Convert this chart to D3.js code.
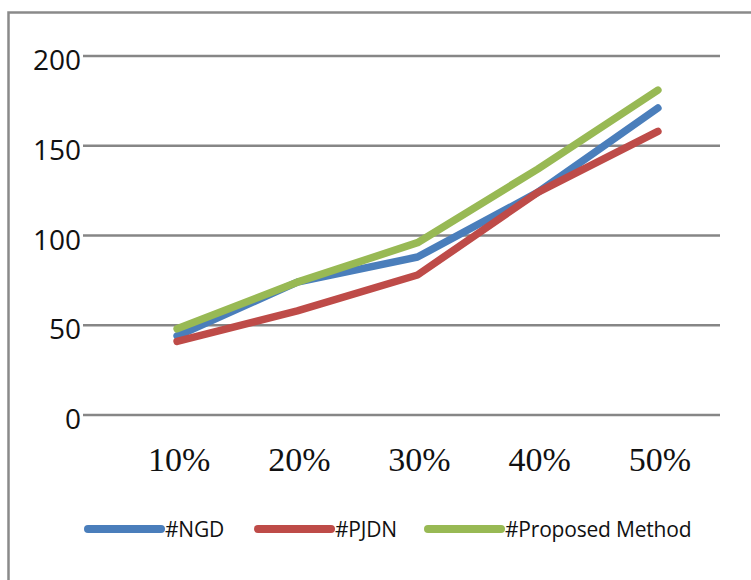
<!DOCTYPE html>
<html>
<head>
<meta charset="utf-8">
<script src="https://cdn.jsdelivr.net/npm/d3@7"></script>
<style>
  html, body { margin: 0; padding: 0; background: #ffffff; }
  svg { display: block; }
</style>
</head>
<body>
<div id="chart"></div>
<script>
// Noise ratio categories and the three compared methods
const categories = ["10%", "20%", "30%", "40%", "50%"];
const ngd = [44, 74, 88, 124, 171];
const pjdn = [41, 58, 78, 124, 158];
const proposed = [48, 74, 96, 137, 181];
const yTicks = [0, 50, 100, 150, 200];
const seriesNames = ["#NGD", "#PJDN", "#Proposed Method"];
const seriesColors = ["#4a7ebb", "#be4b48", "#98b954"];

const series = [ngd, pjdn, proposed].map((values, i) => ({
  name: seriesNames[i],
  color: seriesColors[i],
  values
}));

const W = 751, H = 580;
const svg = d3.select("#chart").append("svg")
  .attr("width", W).attr("height", H);

// outer chart frame (runs off the right and bottom edges)
svg.append("rect")
  .attr("x", 8.5).attr("y", 12.5)
  .attr("width", W + 20).attr("height", H + 20)
  .attr("fill", "none")
  .attr("stroke", "#8a8a8a")
  .attr("stroke-width", 2.5);

const plotLeft = 83, plotRight = 720;

const x = d3.scaleBand()
  .domain(categories)
  .range([117, 718]);

const y = d3.scaleLinear()
  .domain([0, 200])
  .range([415, 56]);

// horizontal gridlines
svg.append("g").selectAll("line")
  .data(yTicks)
  .join("line")
  .attr("x1", plotLeft).attr("x2", plotRight)
  .attr("y1", d => y(d)).attr("y2", d => y(d))
  .attr("stroke", "#868686")
  .attr("stroke-width", 2.5);

// value axis labels
svg.append("g").selectAll("text")
  .data(yTicks)
  .join("text")
  .attr("x", 81)
  .attr("y", d => y(d) + 14)
  .attr("text-anchor", "end")
  .attr("font-family", "'Open Sans', sans-serif")
  .attr("font-size", 28)
  .attr("fill", "#111")
  .text(d => d);

// category axis labels
svg.append("g").selectAll("text")
  .data(categories)
  .join("text")
  .attr("x", d => x(d) + x.bandwidth() / 2 + 2)
  .attr("y", 471)
  .attr("text-anchor", "middle")
  .attr("font-family", "'Liberation Serif', 'Times New Roman', serif")
  .attr("font-size", 34)
  .attr("fill", "#111")
  .text(d => d);

const line = d3.line()
  .x((d, i) => x(categories[i]) + x.bandwidth() / 2)
  .y(d => y(d));

svg.append("g").selectAll("path")
  .data(series)
  .join("path")
  .attr("d", d => line(d.values))
  .attr("fill", "none")
  .attr("stroke", d => d.color)
  .attr("stroke-width", 7.5)
  .attr("stroke-linecap", "round")
  .attr("stroke-linejoin", "round");

// legend
const legendX = [88, 258, 428];
const legend = svg.append("g").selectAll("g")
  .data(series)
  .join("g")
  .attr("transform", (d, i) => `translate(${legendX[i]},529)`);

legend.append("line")
  .attr("x1", 0).attr("x2", 73)
  .attr("y1", 0).attr("y2", 0)
  .attr("stroke", d => d.color)
  .attr("stroke-width", 8)
  .attr("stroke-linecap", "round");

legend.append("text")
  .attr("x", 77)
  .attr("y", 8)
  .attr("font-family", "'Open Sans', sans-serif")
  .attr("font-size", 21)
  .attr("letter-spacing", -0.2)
  .attr("fill", "#111")
  .text(d => d.name);
</script>
</body>
</html>
